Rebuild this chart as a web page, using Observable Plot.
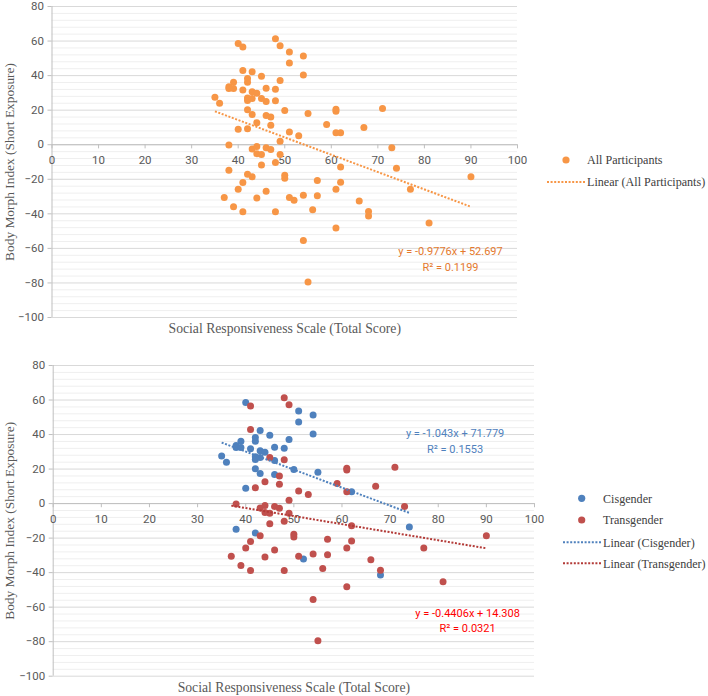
<!DOCTYPE html>
<html><head><meta charset="utf-8">
<script src="https://cdn.jsdelivr.net/npm/d3@7"></script>
<script src="https://cdn.jsdelivr.net/npm/@observablehq/plot@0.6"></script>
<style>
body{margin:0;background:#fff;}
#wrap{position:relative;width:708px;height:696px;overflow:hidden;}
#wrap svg{display:block;}
</style></head><body><div id="wrap"></div>
<script>
// ---- data ----
const cisX = [40,51,54,51,43,45,54,42,42,49,39,38,38,39,41,46,48,43,44,35,36,42,42,43,46,42,50,55,43,46,40,62,74,38,42,52,68];
const cisY = [58.6,53.6,51.3,47.3,42.3,39.6,40.3,38.3,36.1,37.1,36.1,33.6,32.5,32.5,31.7,32.7,32.1,30.6,29.8,27.5,24,27.1,25.6,26.7,25,20.2,19.8,18.1,17.5,16.9,8.9,6.9,-13.6,-14.8,-17.1,-32.1,-41.3];
const transX = [48,41,49,41,45,48,61,61,71,47,44,59,67,47,42,51,61,53,49,38,73,43,44,44,45,46,47,49,45,48,62,90,43,50,50,57,41,62,40,46,61,77,37,44,51,54,57,66,39,41,48,56,68,81,61,54,55];
const transY = [61.3,56.5,57.3,42.9,26.7,25.4,19.4,20.5,21,16,12.7,11.7,10,11.2,9.2,7.3,6.9,5.2,2,-0.2,-1.7,-2.5,-1.1,-5.2,-5.6,-1.7,-2.7,-5.6,-11.7,-10.3,-12.9,-18.6,-18.6,-17.7,-19.4,-20.7,-21.9,-21.7,-25.7,-26.9,-25.7,-25.7,-30.5,-30.9,-30.5,-29.2,-29.6,-32.6,-35.9,-38.8,-38.8,-37.6,-38.6,-45.3,-48.2,-55.5,-79.5];
const xTicks = [0,10,20,30,40,50,60,70,80,90,100];
const yTicks = [-100,-80,-60,-40,-20,0,20,40,60,80];
const xTitle = "Social Responsiveness Scale (Total Score)";
const yTitle = "Body Morph Index (Short Exposure)";
const eqAll = ["y = -0.9776x + 52.697", "R² = 0.1199"];
const eqCis = ["y = -1.043x + 71.779", "R² = 0.1553"];
const eqTrans = ["y = -0.4406x + 14.308", "R² = 0.0321"];
const COL = {all:"#F79646", allEq:"#E4792E", cis:"#4F81BD", cisEq:"#4F81BD", trans:"#C0504D", transEq:"#FF0000", transLine:"#B33A37"};

const cis = cisX.map((x,i)=>({x, y:cisY[i], g:"Cisgender"}));
const trans = transX.map((x,i)=>({x, y:transY[i], g:"Transgender"}));
const all = [...cis, ...trans];

const SANS = "Roboto, 'Open Sans', sans-serif";
const SERIF = "'Liberation Serif','Times New Roman',serif";
const DASH = "2 1.6";

function panel({width, height, ml, mr, mt, mb, series, eqs}) {
  const minor = d3.range(-100, 81, 4).filter(v => v % 20 !== 0);
  const marks = [
    Plot.ruleY(minor, {stroke:"#efefef", strokeWidth:1}),
    Plot.ruleY(yTicks, {stroke:"#d9d9d9", strokeWidth:1}),
    Plot.ruleX([0], {stroke:"#bfbfbf", strokeWidth:1}),
    Plot.ruleY([0], {stroke:"#bfbfbf", strokeWidth:1}),
    Plot.ruleX(xTicks, {x:d=>d, y1:0, y2:-2.4, stroke:"#bfbfbf"}),
    Plot.text(xTicks, {x:d=>d, y:0, dy:16, text:d=>String(d), fill:"#595959", fontSize:11.5}),
    Plot.axisY({ticks:yTicks, tickSize:4, tickPadding:4, stroke:"#bfbfbf", fill:"#595959", fontSize:11.5, label:null}),
  ];
  for (const s of series) marks.push(Plot.dot(s.data, {x:"x", y:"y", r:3.5, fill:s.color, stroke:"none"}));
  for (const s of series) marks.push(Plot.linearRegressionY(s.data, {x:"x", y:"y", ci:0, stroke:s.line, strokeWidth:2, strokeDasharray:DASH, strokeLinecap:"butt"}));
  for (const e of eqs) marks.push(Plot.text(e.lines, {x:e.x, y:(d,i)=>e.y[i], text:d=>d, fill:e.color, fontSize:11, textAnchor:"middle"}));
  marks.push(Plot.text([yTitle], {frameAnchor:"left", dx:-ml+9, rotate:-90, textAnchor:"middle", fontFamily:SERIF, fontSize:13.4, fill:"#595959"}));
  marks.push(Plot.text([xTitle], {frameAnchor:"bottom", dy:11, textAnchor:"middle", lineAnchor:"middle", fontFamily:SERIF, fontSize:13.7, fill:"#595959"}));
  return Plot.plot({
    width, height, marginLeft:ml, marginRight:mr, marginTop:mt, marginBottom:mb,
    x:{domain:[0,100], axis:null},
    y:{domain:[-100,80], axis:null},
    style:{fontFamily:SANS, fontSize:"11.5px", color:"#595959", background:"#fff", overflow:"visible"},
    marks
  });
}

const wrap = document.getElementById("wrap");
const topPanel = panel({width:708, height:345, ml:51.5, mr:191, mt:6, mb:28,
  series:[{data:all, color:COL.all, line:COL.all}],
  eqs:[{lines:eqAll, x:85.6, y:[-61.8,-70.9], color:COL.allEq}]});
wrap.appendChild(topPanel);
const botPanel = panel({width:708, height:351, ml:52.7, mr:174, mt:20, mb:20.3,
  series:[{data:cis, color:COL.cis, line:COL.cis},{data:trans, color:COL.trans, line:COL.transLine}],
  eqs:[{lines:eqCis, x:83.5, y:[40.6,31.5], color:COL.cisEq},{lines:eqTrans, x:86.1, y:[-63.8,-72.1], color:COL.transEq}]});
wrap.appendChild(botPanel);

// ---- legends (SVG overlay) ----
const ns = "http://www.w3.org/2000/svg";
const legSvg = document.createElementNS(ns, "svg");
legSvg.setAttribute("width", 708); legSvg.setAttribute("height", 696);
legSvg.style.position = "absolute"; legSvg.style.left = "0"; legSvg.style.top = "0";
wrap.appendChild(legSvg);
function legendItem(kind, color, label, cx, cy, x0, x1, tx) {
  if (kind === "dot") {
    const c = document.createElementNS(ns, "circle");
    c.setAttribute("cx", cx); c.setAttribute("cy", cy); c.setAttribute("r", 3.6); c.setAttribute("fill", color);
    legSvg.appendChild(c);
  } else {
    const l = document.createElementNS(ns, "line");
    l.setAttribute("x1", x0); l.setAttribute("x2", x1); l.setAttribute("y1", cy); l.setAttribute("y2", cy);
    l.setAttribute("stroke", color); l.setAttribute("stroke-width", 2); l.setAttribute("stroke-dasharray", DASH);
    legSvg.appendChild(l);
  }
  const t = document.createElementNS(ns, "text");
  t.setAttribute("x", tx); t.setAttribute("y", cy); t.setAttribute("dy", "0.35em");
  t.setAttribute("font-family", SERIF); t.setAttribute("font-size", 12.1); t.setAttribute("fill", "#404040");
  t.textContent = label;
  legSvg.appendChild(t);
}
legendItem("dot", COL.all, "All Participants", 566, 160, 0, 0, 587);
legendItem("line", COL.all, "Linear (All Participants)", 0, 182, 547, 585, 587);
legendItem("dot", COL.cis, "Cisgender", 581.7, 498.3, 0, 0, 603);
legendItem("dot", COL.trans, "Transgender", 581.7, 520, 0, 0, 603);
legendItem("line", COL.cis, "Linear (Cisgender)", 0, 542.3, 563, 601.7, 603);
legendItem("line", COL.transLine, "Linear (Transgender)", 0, 563.3, 563, 601.7, 603);
</script></body></html>
